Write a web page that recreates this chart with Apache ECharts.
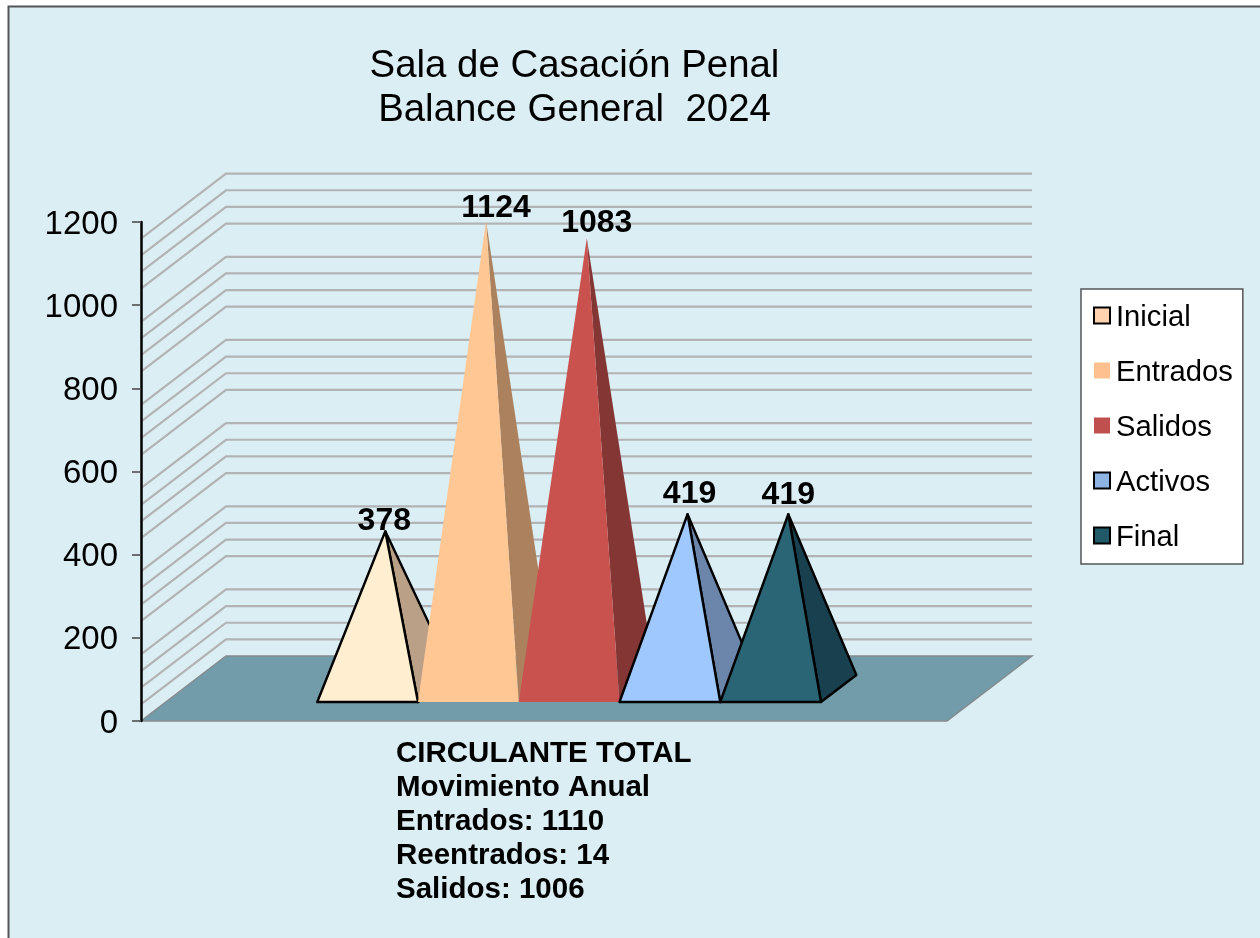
<!DOCTYPE html>
<html><head><meta charset="utf-8">
<style>html,body{margin:0;padding:0;background:#fff}#c{width:1260px;height:938px}</style>
<script src="https://cdn.jsdelivr.net/npm/echarts@6/dist/echarts.min.js"></script>
</head><body><div id="c"></div>
<script>
const titleLines = ['Sala de Casación Penal', 'Balance General  2024'];
const noteLines = ['CIRCULANTE TOTAL', 'Movimiento Anual', 'Entrados: 1110', 'Reentrados: 14', 'Salidos: 1006'];
const seriesNames = ['Inicial', 'Entrados', 'Salidos', 'Activos', 'Final'];
const seriesValues = [378, 1124, 1083, 419, 419];
const yTicks = [0, 200, 400, 600, 800, 1000, 1200];
const wallLines = [40,80,120,160,240,280,320,360,440,480,520,560,640,680,720,760,840,880,920,960,1040,1080,1120,1160];

// styling, kept apart from the data
const frontColors = ['#FFEFD0', '#FFC794', '#C9524F', '#9FC9FE', '#2A6575'];
const sideColors  = ['#BBA088', '#AC825E', '#843634', '#6C85AB', '#19404E'];
const legendColors = ['#FFD3AE', '#FDC08E', '#C0504D', '#8EB4E3', '#215968'];
const outlined = [true, false, false, true, true];
const labelNudge = [[-1,-10],[10,-13],[10,-15],[2,-20],[0,-19]];

const FONT = '"Liberation Sans", Arial, sans-serif';
const DEPTH = [85, -65];      // screen offset of the full floor depth
const X_MAX = 8, X_START = 1.503;

function project(api, x, v, d) {
  const p = api.coord([x, v]);
  return [p[0] + DEPTH[0] * d, p[1] + DEPTH[1] * d];
}
function floorItem(params, api) {
  return { type: 'polygon', silent: true,
    shape: { points: [project(api,0,0,0), project(api,X_MAX,0,0), project(api,X_MAX,0,1), project(api,0,0,1)] },
    style: { fill: '#729CA9', stroke: '#858C8F', lineWidth: 1.5 } };
}
function wallItem(params, api) {
  const v = api.value(1);
  return { type: 'polyline', silent: true,
    shape: { points: [project(api,0,v,0), project(api,0,v,1), project(api,X_MAX,v,1)] },
    style: { fill: null, stroke: '#B2B3B5', lineWidth: 2.2 } };
}
function pyramidItem(i) {
  return function (params, api) {
    const x = X_START + i, v = api.value(1);
    const a = project(api, x, 0, 0.292), b = project(api, x + 1, 0, 0.292),
          c = project(api, x + 1, 0, 0.708), top = project(api, x + 0.5, v, 0.5);
    const line = outlined[i] ? { stroke: '#000', lineWidth: 2.4, lineJoin: 'round' } : { stroke: null, lineWidth: 0 };
    return { type: 'group', silent: true, children: [
      { type: 'polygon', shape: { points: [b, c, top] }, style: Object.assign({ fill: sideColors[i] }, line) },
      { type: 'polygon', shape: { points: [a, b, top] }, style: Object.assign({ fill: frontColors[i] }, line) },
      { type: 'text', z2: 50, style: { text: String(v), x: top[0] + labelNudge[i][0], y: top[1] + labelNudge[i][1],
          align: 'center', verticalAlign: 'middle', font: 'bold 32px ' + FONT, fill: '#000' } }
    ] };
  };
}

const chart = echarts.init(document.getElementById('c'), null, { renderer: 'canvas' });
chart.setOption({
  animation: false,
  graphic: { elements: [{ type: 'rect', z: -10, silent: true,
    shape: { x: 8.5, y: 6.5, width: 1400, height: 1100 },
    style: { fill: '#DBEEF4', stroke: '#555', lineWidth: 2 } }] },
  title: [
    { text: titleLines.join('\n'), left: 569.5, top: 39, textAlign: 'center', z: 6,
      textStyle: { fontFamily: FONT, fontSize: 38.4, fontWeight: 'normal', color: '#000', lineHeight: 44 } },
    { text: noteLines.join('\n'), left: 391, top: 732, z: 6,
      textStyle: { fontFamily: FONT, fontSize: 29.5, fontWeight: 'bold', color: '#000', lineHeight: 34 } }
  ],
  legend: { orient: 'vertical', left: 1081, top: 289, padding: [10, 10, 12, 12],
    backgroundColor: '#fff', borderColor: '#555', borderWidth: 1.5, borderRadius: 0,
    itemWidth: 16, itemHeight: 16, itemGap: 22, icon: 'rect', selectedMode: false,
    formatter: n => '{a|' + n + '}',
    textStyle: { fontFamily: FONT, fontSize: 29.2, color: '#000',
      rich: { a: { fontFamily: FONT, fontSize: 29.2, color: '#000', lineHeight: 26, padding: [4,0,0,1] } } },
    data: seriesNames.map((n, i) => ({ name: n, itemStyle: {
      color: legendColors[i], borderColor: outlined[i] ? '#000' : legendColors[i], borderWidth: outlined[i] ? 2 : 0 } })) },
  grid: { left: 141, top: 222, width: 806, height: 499, containLabel: false },
  xAxis: { type: 'value', min: 0, max: X_MAX, show: false },
  yAxis: { type: 'value', min: yTicks[0], max: yTicks[yTicks.length - 1], interval: 200, z: 5,
    axisLine: { show: true, lineStyle: { color: '#000', width: 2.5 } },
    axisTick: { show: true, length: 9, lineStyle: { color: '#444', width: 1.5 } },
    splitLine: { show: false },
    axisLabel: { fontFamily: FONT, fontSize: 33, color: '#000', margin: 23, verticalAlign: 'top', padding: [-14,0,0,0],
      formatter: v => String(v) } },
  series: [
    { type: 'custom', name: '_wall', silent: true, z: 1, data: wallLines.map(v => [0, v]), renderItem: wallItem, clip: false },
    { type: 'custom', name: '_floor', silent: true, z: 1, data: [[0, 0]], renderItem: floorItem, clip: false }
  ].concat(seriesNames.map((n, i) => ({
    type: 'custom', name: n, z: 2 + i, data: [[i, seriesValues[i]]], renderItem: pyramidItem(i), clip: false,
    itemStyle: { color: legendColors[i] }
  })))
});
</script></body></html>
